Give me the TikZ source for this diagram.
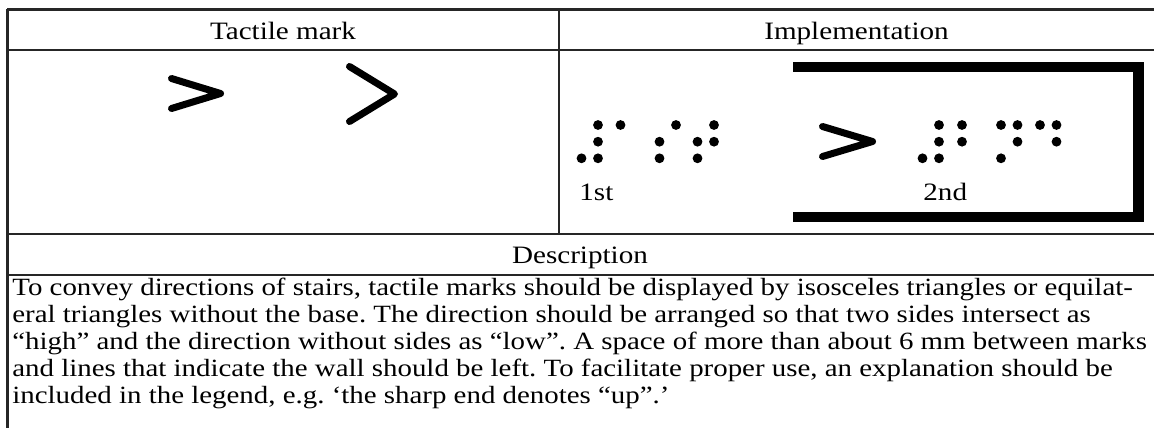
\documentclass[tikz,border=0pt]{standalone}
\usepackage{fontspec}
\setmainfont{Liberation Serif}[FakeStretch=1.165]
\usepackage{tikz}
\frenchspacing

\begin{document}
\begin{tikzpicture}[x=0.5pt,y=-0.5pt]
      \tikzstyle{frame} = [line width=1.2pt, draw=black!85]
      \tikzstyle{rule} = [line width=0.8pt, draw=black!85]
      \tikzstyle{chevron} = [line width=3.5pt, line cap=round, line join=round]
      \tikzstyle{wall} = [line width=5.2pt, line join=miter]
      \tikzstyle{dot} = [radius=2.45pt]
      \tikzstyle{head} = [inner sep=0pt, anchor=base, font=\fontsize{12.5}{13.5}\selectfont]
      \tikzstyle{body} = [inner sep=0pt, anchor=north west, align=left, font=\fontsize{12.4}{13.5}\selectfont]

      \useasboundingbox (0,0) rectangle (1154,428);

      % table rules
      \draw [frame] (7.3,9.5) -- (1154,9.5);
      \draw [frame] (7.3,8.9) -- (7.3,428);
      \draw [rule] (7.3,50) -- (1154,50);
      \draw [rule] (558.7,9.5) -- (558.7,234);
      \draw [rule] (7.3,234) -- (1154,234);
      \draw [rule] (7.3,275) -- (1154,275);

      % headings
      \node (tactile) [head] at (283,39.5) {Tactile mark};
      \node (impl) [head] at (856.5,39.5) {Implementation};
      \node (desc) [head] at (580,263) {Description};

      % tactile marks
      \draw [chevron] (171.5,78.5) -- (220.5,93.5) -- (171.5,108.5);
      \draw [chevron] (349.5,66.5) -- (394.5,94) -- (349.5,121.5);

      % implementation
      \draw [wall] (793,67) -- (1138.6,67) -- (1138.6,217) -- (793,217);
      \draw [chevron] (822.5,126.5) -- (872.5,141.5) -- (822.5,156.5);
      \foreach \pos in {(581.5,158.3),(598,125),(598,141.7),(598,158.3),(620.5,125),
                        (659.5,141.7),(659.5,158.3),(676,125),
                        (697.5,141.7),(697.5,158.3),(714,125),(714,141.7)}
        \fill [dot] \pos circle;
      \foreach \pos in {(922.5,158.3),(939,125),(939,141.7),(939,158.3),(962,125),(962,141.7),
                        (1001,125),(1001,158.3),(1017.5,125),(1017.5,141.7),
                        (1040,125),(1056.5,125),(1056.5,141.7)}
        \fill [dot] \pos circle;
      \node (first) [head, anchor=base west] at (579,200) {1st};
      \node (second) [head, anchor=base west] at (923,200) {2nd};

      % description text
      \node (text) [body] at (12,278) {To convey directions of stairs, tactile marks should be displayed by isosceles triangles or equilat-\\
eral triangles without the base. The direction should be arranged so that two sides intersect as\\
“high” and the direction without sides as “low”. A space of more than about 6 mm between marks\\
and lines that indicate the wall should be left. To facilitate proper use, an explanation should be\\
included in the legend, e.g. ‘the sharp end denotes “up”.’};

\end{tikzpicture}
\end{document}
